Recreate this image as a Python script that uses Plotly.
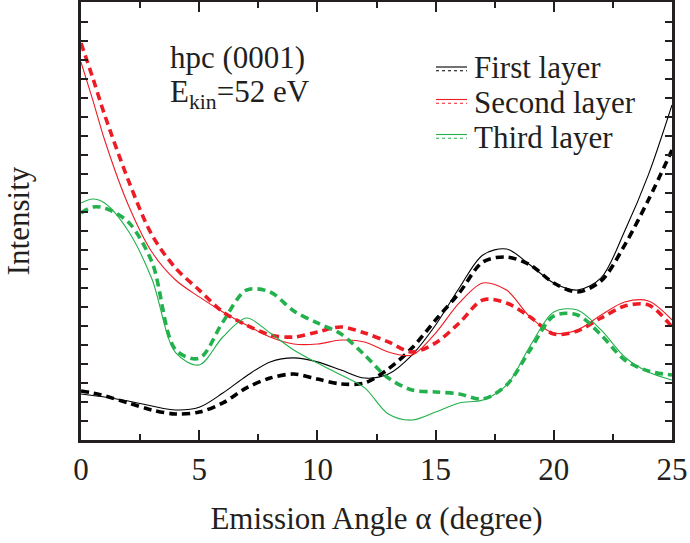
import plotly.graph_objects as go

angle = [0, 0.5, 1, 2, 3, 4, 5, 6, 7, 8, 9, 10, 11, 12, 13, 14, 15, 16, 17, 18, 19, 20, 21, 22, 23, 24, 25]

first_solid = [2.42, 2.34, 2.26, 2.05, 1.79, 1.58, 1.72, 2.47, 3.37, 4.11, 4.32, 4.11, 3.68, 3.26, 3.47, 4.47, 6.05, 8.0, 9.74, 10.05, 9.21, 8.26, 7.89, 8.53, 11.0, 13.95, 17.63]
first_dashed = [2.58, 2.47, 2.32, 1.95, 1.58, 1.37, 1.47, 1.95, 2.74, 3.26, 3.47, 3.21, 2.95, 3.0, 3.74, 4.84, 6.32, 7.74, 9.37, 9.63, 9.21, 8.26, 7.79, 8.37, 10.26, 12.63, 15.26]

second_solid = [19.89, 17.89, 15.79, 12.37, 9.89, 8.42, 7.53, 6.74, 6.05, 5.42, 5.05, 5.05, 5.26, 5.16, 4.63, 4.47, 5.63, 7.21, 8.26, 7.89, 6.47, 5.63, 5.79, 6.58, 7.26, 7.32, 6.32]
second_dashed = [20.89, 19.05, 17.11, 13.68, 10.79, 9.05, 7.89, 6.74, 6.05, 5.53, 5.42, 5.68, 5.95, 5.63, 5.16, 4.63, 5.11, 6.16, 7.37, 7.21, 6.47, 5.58, 5.74, 6.42, 7.05, 7.11, 5.95]

third_solid = [12.47, 12.68, 12.47, 11.0, 8.47, 4.6, 3.95, 5.42, 6.42, 5.63, 4.74, 4.05, 3.42, 2.74, 1.37, 1.05, 1.47, 1.95, 2.11, 2.89, 4.95, 6.74, 6.84, 5.79, 4.37, 3.58, 3.16]
third_dashed = [11.95, 12.26, 12.21, 11.47, 9.37, 4.75, 4.3, 6.21, 7.89, 7.79, 6.79, 6.16, 5.58, 4.47, 3.26, 2.63, 2.53, 2.42, 2.16, 2.89, 4.74, 6.53, 6.58, 5.53, 4.21, 3.63, 3.42]

legend_labels = ["First layer", "Second layer", "Third layer"]
colors = ["#000000", "#ed1c24", "#22b14c"]

x_ticks = [0, 5, 10, 15, 20, 25]

FONT = "Liberation Serif, Times New Roman, serif"

fig = go.Figure()
series = [(first_solid, first_dashed), (second_solid, second_dashed), (third_solid, third_dashed)]
for (s, d), c, name in zip(series, colors, legend_labels):
    fig.add_trace(go.Scatter(x=angle, y=s, mode="lines", name=name,
                             line=dict(color=c, width=1.1, shape="spline", smoothing=0.9),
                             showlegend=False, hoverinfo="skip"))
    fig.add_trace(go.Scatter(x=angle, y=d, mode="lines", name=name + " (dashed)",
                             line=dict(color=c, width=3.6, dash="8px,5px", shape="spline", smoothing=0.9),
                             showlegend=False, hoverinfo="skip"))

# manual legend
def py2paper(py):
    return (440 - py) / 438.0

def px2paper(px):
    return (px - 81) / 591.0

leg_solid_py = [67, 99.5, 134.5]
leg_text_py = [67.5, 102, 137]
for i, (name, c) in enumerate(zip(legend_labels, colors)):
    ys = py2paper(leg_solid_py[i])
    yd = py2paper(leg_solid_py[i] + 3.8)
    fig.add_shape(type="line", xref="paper", yref="paper", x0=px2paper(436), x1=px2paper(467),
                  y0=ys, y1=ys, line=dict(color=c, width=1.1))
    fig.add_shape(type="line", xref="paper", yref="paper", x0=px2paper(436), x1=px2paper(467),
                  y0=yd, y1=yd, line=dict(color=c, width=1.1, dash="dot"))
    fig.add_annotation(xref="paper", yref="paper", x=px2paper(472), y=py2paper(leg_text_py[i]),
                       text=name, showarrow=False, xanchor="left", yanchor="middle",
                       font=dict(family=FONT, size=31, color="#231f20"))

fig.add_annotation(xref="paper", yref="paper", x=px2paper(168), y=py2paper(57.5),
                   text="hpc (0001)", showarrow=False, xanchor="left", yanchor="middle",
                   font=dict(family=FONT, size=31, color="#231f20"))
fig.add_annotation(xref="paper", yref="paper", x=px2paper(168), y=py2paper(94),
                   text="E<sub>kin</sub>=52 eV", showarrow=False, xanchor="left", yanchor="middle",
                   font=dict(family=FONT, size=31, color="#231f20"))

fig.update_xaxes(range=[0, 25], tickvals=x_ticks, ticktext=[str(v) for v in x_ticks],
                 ticks="inside", ticklen=10, tickwidth=2, tickcolor="#231f20",
                 minor=dict(dtick=2.5, tick0=0, ticks="inside", ticklen=6, tickwidth=2, tickcolor="#231f20"),
                 showline=True, linewidth=2.5, linecolor="#231f20", mirror="ticks",
                 showgrid=False, zeroline=False,
                 tickfont=dict(family=FONT, size=31, color="#231f20"),
                 title=dict(text="Emission Angle α (degree)", font=dict(family=FONT, size=31, color="#231f20"),
                            standoff=22))
fig.update_yaxes(range=[0, 23.05], dtick=1, tick0=0, showticklabels=False,
                 ticks="inside", ticklen=7, tickwidth=2, tickcolor="#231f20",
                 showline=True, linewidth=2.5, linecolor="#231f20", mirror="ticks",
                 showgrid=False, zeroline=False,
                 title=dict(text="Intensity", font=dict(family=FONT, size=31, color="#231f20"),
                            standoff=40))

fig.update_layout(width=690, height=543, margin=dict(l=81, r=18, t=2, b=103, autoexpand=False),
                  plot_bgcolor="white", paper_bgcolor="white", showlegend=False)

fig.write_html("out.html", config={"displayModeBar": False},
               post_script="document.body.style.margin='0';document.body.style.padding='0';")
